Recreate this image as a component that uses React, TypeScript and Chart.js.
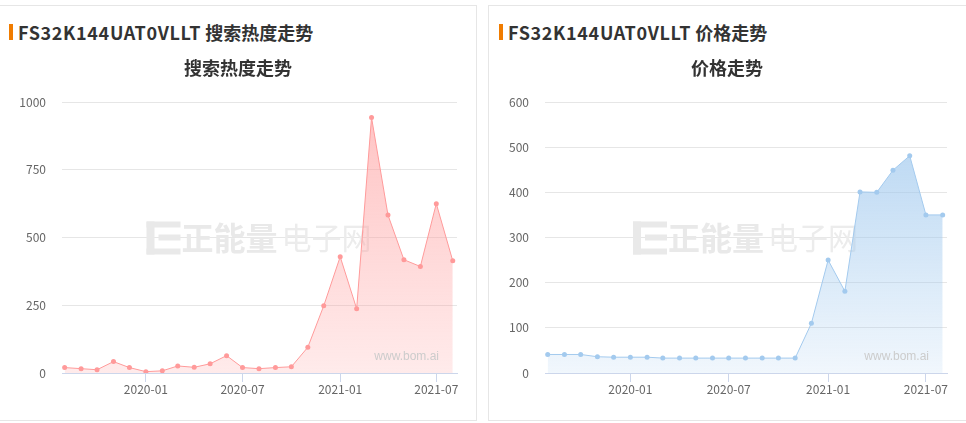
import React, { useEffect, useRef } from "react";
import { Chart, registerables } from "chart.js";

Chart.register(...registerables);

const months = [
  "2019-08", "2019-09", "2019-10", "2019-11", "2019-12",
  "2020-01", "2020-02", "2020-03", "2020-04", "2020-05", "2020-06",
  "2020-07", "2020-08", "2020-09", "2020-10", "2020-11", "2020-12",
  "2021-01", "2021-02", "2021-03", "2021-04", "2021-05", "2021-06",
  "2021-07", "2021-08",
];
const searchHeat = [20, 16, 12, 42, 20, 5, 8, 26, 21, 34, 64, 20, 16, 20, 23, 95, 248, 429, 237, 943, 583, 418, 393, 625, 414];
const prices = [41, 41, 41, 36, 35, 35, 35, 33, 33, 33, 33, 33, 33, 33, 33, 33, 110, 250, 181, 401, 400, 449, 481, 350, 350];
const tickLabels = ["2020-01", "2020-07", "2021-01", "2021-07"];

const partName = "FS32K144UAT0VLLT";
const heatTitle = "搜索热度走势";
const priceTitle = "价格走势";

const FONT = "'Noto Sans CJK SC', 'Noto Sans', sans-serif";

function dayOf(s: string): number {
  const [y, m] = s.split("-").map(Number);
  return Date.UTC(y, m - 1, 1) / 86400000;
}

function decorPlugin(title: string) {
  return {
    id: "decor",
    beforeDatasetsDraw(chart: any) {
      const { ctx, chartArea } = chart;
      const cx = (chartArea.left + chartArea.right) / 2;
      const cy = (chartArea.top + chartArea.bottom) / 2;
      ctx.save();
      ctx.fillStyle = "#e9e9e9";
      const ix = cx - 113;
      const iy = cy - 16;
      ctx.fillRect(ix, iy, 34, 6);
      ctx.fillRect(ix, iy + 27, 34, 6);
      ctx.fillRect(ix, iy, 8, 33);
      ctx.fillRect(ix + 12, iy + 13, 22, 6);
      ctx.textBaseline = "middle";
      ctx.textAlign = "left";
      ctx.font = `bold 32px ${FONT}`;
      ctx.fillText("正能量", cx - 78, cy);
      ctx.fillStyle = "#ececec";
      ctx.font = `30px ${FONT}`;
      ctx.fillText("电子网", cx + 22, cy);
      ctx.restore();
    },
    afterDatasetsDraw(chart: any) {
      const { ctx, chartArea } = chart;
      ctx.save();
      ctx.fillStyle = "#cccccc";
      ctx.font = `12px 'Liberation Sans', Arial, sans-serif`;
      ctx.textAlign = "right";
      ctx.textBaseline = "middle";
      ctx.fillText("www.bom.ai", chartArea.right - 18, chartArea.bottom - 16);
      ctx.restore();
    },
    afterDraw(chart: any) {
      const { ctx } = chart;
      ctx.save();
      ctx.fillStyle = "#333333";
      ctx.font = `bold 18px ${FONT}`;
      ctx.textAlign = "center";
      ctx.textBaseline = "middle";
      ctx.fillText(title, chart.width / 2, 68);
      ctx.restore();
    },
  };
}

type Cfg = {
  values: number[];
  line: string;
  rgb: string;
  topA: number;
  botA: number;
  yMax: number;
  yStep: number;
  yWidth: number;
  title: string;
};

function makeChart(canvas: HTMLCanvasElement, cfg: Cfg) {
  const xs = months.map(dayOf);
  const tickVals = tickLabels.map(dayOf);
  return new Chart(canvas, {
    type: "line",
    data: {
      datasets: [
        {
          data: cfg.values.map((v, i) => ({ x: xs[i], y: v })),
          borderColor: cfg.line,
          borderWidth: 1,
          pointRadius: 2.5,
          pointBackgroundColor: cfg.line,
          pointBorderWidth: 0,
          tension: 0,
          fill: "origin",
          backgroundColor: (ctx: any) => {
            const { chart } = ctx;
            const area = chart.chartArea;
            if (!area) return `rgba(${cfg.rgb},${cfg.botA})`;
            const g = chart.ctx.createLinearGradient(0, area.top, 0, area.bottom);
            g.addColorStop(0, `rgba(${cfg.rgb},${cfg.topA})`);
            g.addColorStop(1, `rgba(${cfg.rgb},${cfg.botA})`);
            return g;
          },
        },
      ],
    },
    options: {
      responsive: false,
      animation: false,
      layout: { padding: { top: 102, right: 19, left: 0, bottom: 0 } },
      plugins: {
        legend: { display: false },
        title: { display: false },
        tooltip: { enabled: false },
      },
      scales: {
        x: {
          type: "linear",
          min: xs[0] - 5,
          max: xs[xs.length - 1] + 8,
          afterBuildTicks: (scale: any) => {
            scale.ticks = tickVals.map((v) => ({ value: v }));
          },
          afterFit: (scale: any) => {
            scale.height = 47;
          },
          grid: {
            drawOnChartArea: false,
            drawTicks: true,
            tickLength: 9,
            color: "#ccd6eb",
          },
          border: { display: true, color: "#ccd6eb" },
          ticks: {
            autoSkip: false,
            maxRotation: 0,
            padding: 0,
            color: "#666666",
            font: { size: 12, family: FONT },
            callback: (value: any) => {
              const i = tickVals.indexOf(Number(value));
              return i >= 0 ? tickLabels[i] : "";
            },
          },
        },
        y: {
          min: 0,
          max: cfg.yMax,
          afterFit: (scale: any) => {
            scale.width = cfg.yWidth;
          },
          grid: { color: "#e6e6e6", drawTicks: false },
          border: { display: false },
          ticks: {
            stepSize: cfg.yStep,
            padding: 16,
            color: "#666666",
            font: { size: 12, family: FONT },
            callback: (value: any) => String(value),
          },
        },
      },
    },
    plugins: [decorPlugin(cfg.title) as any],
  });
}

function ChartCanvas({ cfg, left, width }: { cfg: Cfg; left: number; width: number }) {
  const ref = useRef<HTMLCanvasElement | null>(null);
  useEffect(() => {
    if (!ref.current) return;
    const c = makeChart(ref.current, cfg);
    return () => c.destroy();
  }, []);
  return (
    <canvas
      ref={ref}
      width={width}
      height={420}
      style={{ position: "absolute", left, top: 0, width, height: 420 }}
    />
  );
}

function Header({ left, name, title }: { left: number; name: string; title: string }) {
  return (
    <>
      <div
        style={{
          position: "absolute",
          left,
          top: 24,
          width: 4,
          height: 16,
          background: "#f07c00",
        }}
      />
      <div
        style={{
          position: "absolute",
          left: left + 9,
          top: 22,
          fontFamily: FONT,
          fontWeight: "bold",
          fontSize: 18,
          lineHeight: "20px",
          color: "#333333",
          whiteSpace: "nowrap",
        }}
      >
        <span style={{ letterSpacing: "0.65px" }}>{name}</span> {title}
      </div>
    </>
  );
}

export default function App() {
  const heatCfg: Cfg = {
    values: searchHeat,
    line: "#ff9a9a",
    rgb: "255,154,154",
    topA: 0.6,
    botA: 0.2,
    yMax: 1000,
    yStep: 250,
    yWidth: 62,
    title: heatTitle,
  };
  const priceCfg: Cfg = {
    values: prices,
    line: "#a3caee",
    rgb: "159,200,238",
    topA: 0.8,
    botA: 0.15,
    yMax: 600,
    yStep: 100,
    yWidth: 57,
    title: priceTitle,
  };
  return (
    <div
      style={{
        position: "fixed",
        left: 0,
        top: 0,
        width: 966,
        height: 423,
        overflow: "hidden",
        background: "#ffffff",
      }}
    >
      <div
        style={{
          position: "absolute",
          left: -2,
          top: 5,
          width: 479,
          height: 416,
          boxSizing: "border-box",
          border: "1px solid #e6e6e6",
        }}
      />
      <div
        style={{
          position: "absolute",
          left: 488,
          top: 5,
          width: 500,
          height: 416,
          boxSizing: "border-box",
          border: "1px solid #e6e6e6",
        }}
      />
      <Header left={9} name={partName} title={heatTitle} />
      <Header left={499} name={partName} title={priceTitle} />
      <ChartCanvas cfg={heatCfg} left={0} width={476} />
      <ChartCanvas cfg={priceCfg} left={488} width={478} />
    </div>
  );
}
